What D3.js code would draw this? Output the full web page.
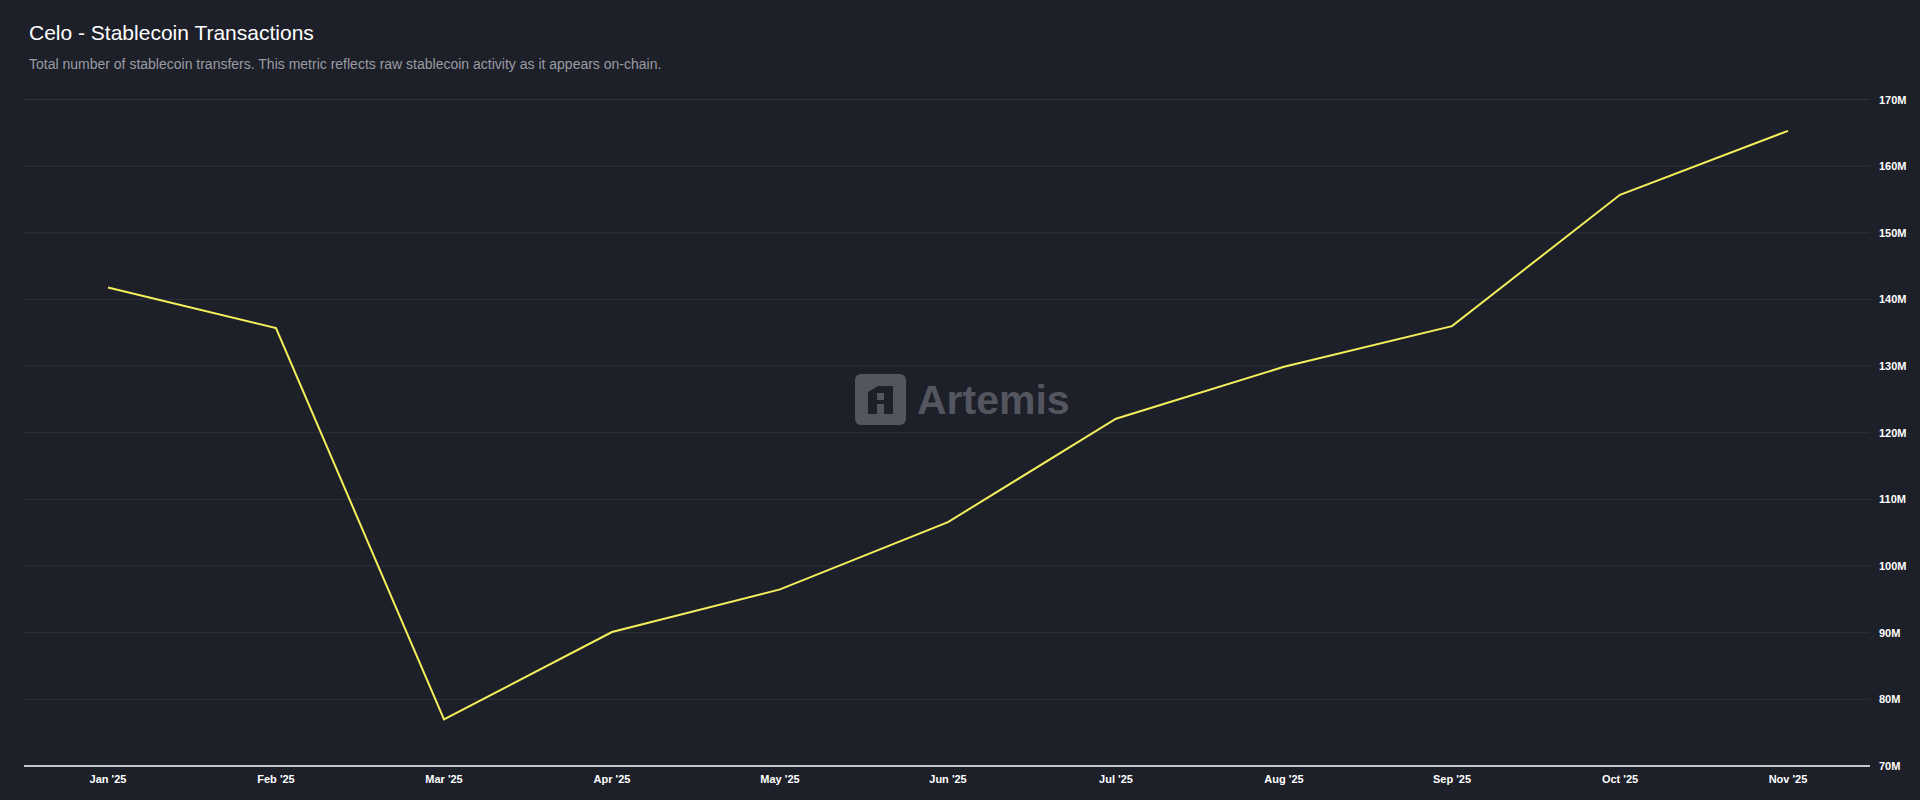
<!DOCTYPE html>
<html><head><meta charset="utf-8">
<script src="https://cdn.jsdelivr.net/npm/d3@7"></script>
<style>html,body{margin:0;background:#1d1f29;}svg{display:block;font-family:Arial,"Liberation Sans",sans-serif;}</style>
</head><body><svg id="c" width="1920" height="800"></svg>
<script>
const months = ["Jan '25","Feb '25","Mar '25","Apr '25","May '25","Jun '25","Jul '25","Aug '25","Sep '25","Oct '25","Nov '25"];
const values = [141.8,135.7,77.0,90.1,96.5,106.6,122.1,129.9,136.0,155.7,165.3];
const yTicks = [70,80,90,100,110,120,130,140,150,160,170];

(function(){
const svg = d3.select("#c");
svg.append("rect").attr("width",1920).attr("height",800).attr("fill","#1d1f29");
const pL=24, pR=1870, pT=99.5, pB=766;
const x = d3.scalePoint().domain(months).range([108,1788]);
const y = d3.scaleLinear().domain([70,170]).range([pB,pT]);

svg.append("text").attr("x",29).attr("y",40).attr("fill","#fff").attr("font-size",21).text("Celo - Stablecoin Transactions");
svg.append("text").attr("x",29).attr("y",69).attr("fill","#9a9ca3").attr("font-size",14).text("Total number of stablecoin transfers. This metric reflects raw stablecoin activity as it appears on-chain.");

const g = svg.append("g");
g.selectAll("line.grid").data(yTicks.filter(t=>t>70)).join("line")
 .attr("x1",pL).attr("x2",pR).attr("y1",d=>y(d)).attr("y2",d=>y(d)).attr("stroke","#2e303b").attr("stroke-width",1);
g.append("line").attr("x1",pL).attr("x2",pR).attr("y1",y(70)).attr("y2",y(70)).attr("stroke","#fff").attr("stroke-width",1.5);
g.selectAll("text.yt").data(yTicks).join("text").attr("x",1879).attr("y",d=>y(d)+4).attr("fill","#fff")
 .attr("font-size",11).attr("font-weight","bold").text(d=>d+"M");
g.selectAll("text.xt").data(months).join("text").attr("x",d=>x(d)).attr("y",783).attr("text-anchor","middle")
 .attr("fill","#fff").attr("font-size",11).attr("font-weight","bold").text(d=>d);

const wm = svg.append("g").attr("opacity",0.5);
wm.append("rect").attr("x",855).attr("y",374).attr("width",51).attr("height",51).attr("rx",6).attr("fill","#8a8d96");
wm.append("path").attr("d","M868 414 V392 L878 386 H893 V414 H884 V404 H877 V414 Z").attr("fill","#1d1f29");
wm.append("rect").attr("x",877).attr("y",393).attr("width",7).attr("height",7).attr("fill","#8a8d96");
wm.append("text").attr("x",917).attr("y",414).attr("fill","#8a8d96").attr("font-size",41).attr("font-weight","bold").text("Artemis");

const line = d3.line().x((d,i)=>x(months[i])).y(d=>y(d));
svg.append("path").datum(values).attr("d",line).attr("fill","none").attr("stroke","#f4f05c").attr("stroke-width",2);
})();
</script></body></html>
